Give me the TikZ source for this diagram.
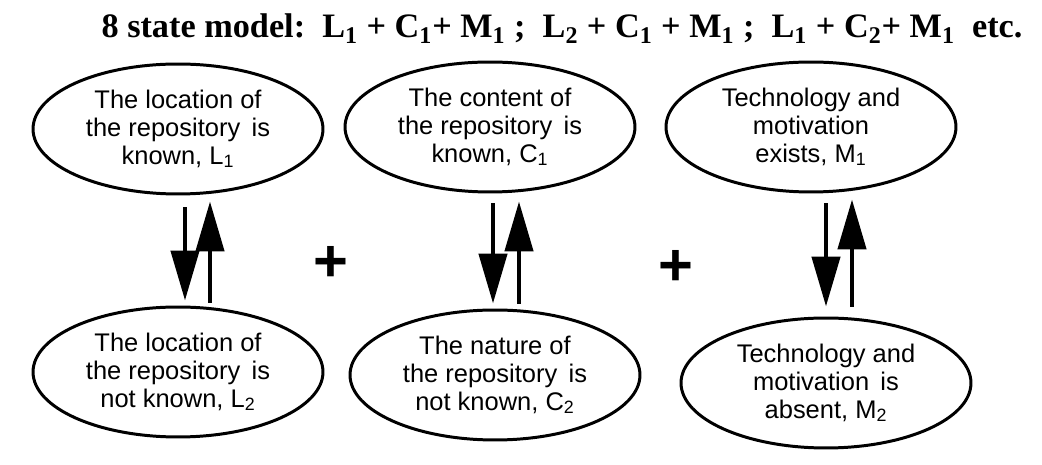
\documentclass[tikz,border=0pt]{standalone}
\usepackage{fontspec}
\setmainfont{Liberation Serif}
\newfontfamily\statefont{Liberation Sans}
\usetikzlibrary{shapes.geometric,arrows.meta,calc}

\tikzset{
  state/.style={ellipse, draw, line width=1.7pt, inner sep=0pt,
    minimum width=5.8cm, minimum height=2.6cm, align=center,
    font=\statefont\fontsize{14.5}{15.8}\selectfont},
  flow/.style={line width=2.6pt, -{Triangle[length=1.0cm,width=0.56cm]}},
  plus/.style={font=\statefont\bfseries\fontsize{34}{34}\selectfont, inner sep=0pt}
}

\begin{document}
\begin{tikzpicture}[x=0.02cm, y=-0.02cm]
  \useasboundingbox (0,0) rectangle (1042,465);

  % Title
  \node[anchor=base, font=\bfseries\fontsize{19.5}{24}\selectfont] (title) at (562,38)
    {8 state model:\ \ L\textsubscript{1} + C\textsubscript{1}+ M\textsubscript{1} ;\ \ L\textsubscript{2} + C\textsubscript{1} + M\textsubscript{1} ;\ \ L\textsubscript{1} + C\textsubscript{2}+ M\textsubscript{1}\ \ etc.};

  % Known states
  \node[state] (L1) at (178,129) {The location of\\the repository\, is\\known, L\textsubscript{1}};
  \node[state] (C1) at (490,127) {The content of\\the repository\, is\\known, C\textsubscript{1}};
  \node[state] (M1) at (811,127) {Technology and\\motivation\\exists, M\textsubscript{1}};

  % Unknown states
  \node[state] (L2) at (178,372) {The location of\\the repository\, is\\not known, L\textsubscript{2}};
  \node[state] (C2) at (495,375) {The nature of\\the repository\, is\\not known, C\textsubscript{2}};
  \node[state] (M2) at (826,383) {Technology and\\motivation\, is\\absent, M\textsubscript{2}};

  % Transitions
  \draw[flow] ($(L1.south)+(7,12)$) -- ($(L2.north)+(7,-5)$);
  \draw[flow] ($(L2.north)+(32,-3)$) -- ($(L1.south)+(32,6)$);
  \draw[flow] ($(C1.south)+(3,10)$) -- ($(C2.north)+(-2,-5)$);
  \draw[flow] ($(C2.north)+(24,-5)$) -- ($(C1.south)+(29,8)$);
  \draw[flow] ($(M1.south)+(15,10)$) -- ($(M2.north)+(0,-10)$);
  \draw[flow] ($(M2.north)+(26,-10)$) -- ($(M1.south)+(41,6)$);

  % Combination signs
  \node[plus] (p1) at (331,264) {+};
  \node[plus] (p2) at (676,268) {+};
\end{tikzpicture}
\end{document}
